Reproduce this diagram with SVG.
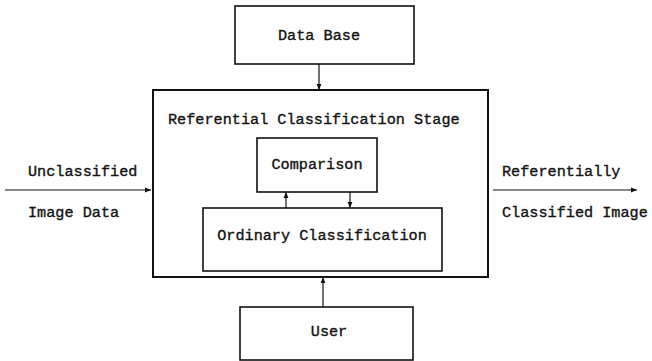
<svg xmlns="http://www.w3.org/2000/svg" width="652" height="361" viewBox="0 0 652 361">
  <defs>
    <marker id="arr" viewBox="0 0 10 10" refX="10" refY="5" markerWidth="6" markerHeight="6" orient="auto" markerUnits="userSpaceOnUse">
      <path d="M0,1 L10,5 L0,9 z" fill="#111"/>
    </marker>
    <style>
      .box { fill: none; stroke: #111; stroke-width: 1.6; }
      .main { fill: none; stroke: #111; stroke-width: 2; }
      .ln { fill: none; stroke: #111; stroke-width: 1.2; }
      text { font-family: "Liberation Mono", "DejaVu Sans Mono", monospace; font-size: 15.2px; fill: #111; stroke: #111; stroke-width: 0.35; }
      .c { text-anchor: middle; }
    </style>
  </defs>
  <rect width="652" height="361" fill="#fff"/>

  <g id="database">
    <rect class="box" x="235" y="6" width="179" height="58"/>
    <text class="c" x="319" y="40">Data Base</text>
  </g>

  <g id="stage">
    <rect class="main" x="153" y="90" width="335" height="187"/>
    <text x="168" y="124">Referential Classification Stage</text>
  </g>

  <g id="comparison">
    <rect class="box" x="257" y="138" width="120" height="54"/>
    <text class="c" x="317" y="169">Comparison</text>
  </g>

  <g id="ordinary">
    <rect class="box" x="203" y="208" width="239" height="63"/>
    <text class="c" x="322" y="240">Ordinary Classification</text>
  </g>

  <g id="user">
    <rect class="box" x="240" y="307" width="173" height="53"/>
    <text class="c" x="329" y="336">User</text>
  </g>

  <g id="input-label">
    <text x="28" y="176">Unclassified</text>
    <text x="28" y="217">Image Data</text>
  </g>

  <g id="output-label">
    <text x="502" y="176">Referentially</text>
    <text x="502" y="217">Classified Image</text>
  </g>

  <g id="connectors">
    <line class="ln" x1="319" y1="64" x2="319" y2="90" marker-end="url(#arr)"/>
    <line class="ln" x1="286" y1="208" x2="286" y2="192" marker-end="url(#arr)"/>
    <line class="ln" x1="350" y1="192" x2="350" y2="208" marker-end="url(#arr)"/>
    <line class="ln" x1="323" y1="307" x2="323" y2="277" marker-end="url(#arr)"/>
    <line class="ln" x1="5" y1="190" x2="151" y2="190" marker-end="url(#arr)"/>
    <line class="ln" x1="493" y1="190" x2="637" y2="190" marker-end="url(#arr)"/>
  </g>
</svg>
